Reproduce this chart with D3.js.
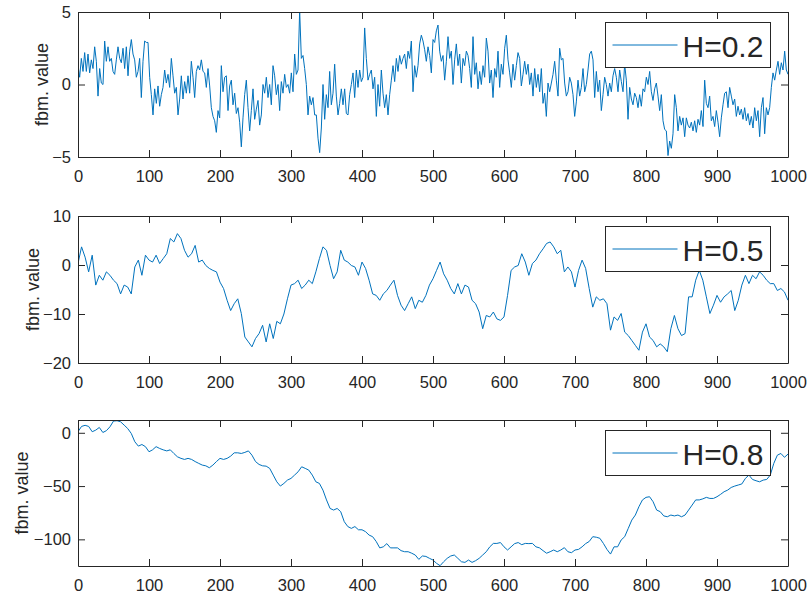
<!DOCTYPE html>
<html>
<head>
<meta charset="utf-8">
<script src="https://cdn.jsdelivr.net/npm/d3@7"></script>
<style>
  body { margin: 0; background: #fff; }
  svg text { font-family: "Liberation Sans", Arial, Helvetica, sans-serif; fill: #262626; }
</style>
</head>
<body>
<svg id="chart" width="811" height="596"></svg>
<script>
// x ticks shared by all three panels
const xTicks = [0, 100, 200, 300, 400, 500, 600, 700, 800, 900, 1000];

// fbm samples, evenly spaced over 0..1000
const h02Values = [
  1.3,0.5,1.8,0.9,2.2,0.9,2.1,0.8,1.7,
  1.1,2.6,1.6,-0.8,1.1,0.1,0,3.0,1.6,
  2.6,1.6,1.8,0.9,0.7,1.7,2.6,1.8,1.5,
  2.5,1.1,2.6,0.6,2.3,3.1,2.1,1.7,0.5,0.9,
  1.8,-0.9,1.6,3.0,2.9,2.9,0.5,-0.7,-2.1,-0.3,
  -1.3,-0.1,-1.5,-0.7,-0.2,1.0,0.1,0.7,-0.2,1.8,
  0.6,-0.6,-0.2,-2.1,-1.0,0.6,-1.0,0.2,-0.6,0.6,
  -0.6,1.6,0.5,-0.9,0.9,1.3,1.0,1.7,0.9,0.8,
  -0.2,1.1,-0.1,-1.6,-2.2,-2.5,-3.3,-1.8,-2.3,1.3,
  -0.5,0.5,0.6,-1.8,-0.1,0.3,-1.4,-0.6,-2.0,-1.6,
  -2.6,-4.3,-2.3,-0.7,0.3,-1.6,-3.2,-1.8,-0.3,-2.4,
  -1.7,-1.1,-2.8,-2.1,0,-0.6,0.5,-0.9,0,-1.4,
  1.3,0.6,-0.7,0,-1.8,0.2,-0.6,0.7,-0.2,0,
  -0.6,0.8,-0.5,2.1,0.7,1.0,5.1,1.8,2.0,1.1,
  0,-2.1,-0.8,-1.4,-0.9,-2.1,
  -2.1,-3.7,-4.7,-3.0,0,-2.4,-0.7,-1.6,0.9,-1.4,
  -0.6,1.4,-0.8,-2.1,-1.3,-0.3,-1.4,-0.3,-2.0,-2.1,
  -0.7,0,0.8,-0.9,1.0,-0.2,1.0,0.2,0.5,
  3.9,1.8,0.3,0.7,1.0,-0.3,0.5,-2.2,0,-1.5,
  1.0,-0.6,-1.6,-0.7,-2.1,-0.7,0.3,1.3,0.2,1.8,
  0.9,2.0,1.4,1.8,2.1,1.1,2.3,1.8,3.0,-0.5,
  1.3,0.5,1.3,2.8,3.4,3.0,2.4,1.6,2.6,2.0,
  0.8,3.1,2.9,3.7,4.1,2.3,1.6,2.0,0.3,1.6,
  3.3,1.8,2.3,0,1.7,2.8,1.3,2.1,0.1,1.8,
  1.3,2.3,2.0,1.1,-0.2,3.3,0.7,1.5,-0.3,0.9,
  0,1.3,0.5,3.2,2.3,0.1,1.0,-0.9,1.1,0.5,
  2.3,-0.2,1.4,0.7,2.5,3.4,1.7,0.8,-0.2,1.4,
  0.3,1.3,2.2,1.8,-0.1,0.7,1.6,0.7,1.4,0,
  0.8,-0.8,1.1,-0.2,0.7,-0.5,1.1,-1.3,-0.6,-2.2,
  0.1,-0.5,0.1,
  0.7,1.6,0.3,-0.8,2.5,1.7,1.8,0.1,-0.8,-0.5,
  0.5,0.1,-0.7,-2.2,-1.2,0.3,-0.8,-0.2,1.1,-0.5,
  0,1.0,2.1,2.3,1.7,-0.9,0.9,-0.5,0.3,-1.8,
  -0.7,0.5,0,-0.8,0.1,-0.5,0.6,1.1,0.5,-0.5,
  1.0,0.2,-0.5,1.4,0.3,-2.4,-0.2,-1.0,-1.4,-0.6,
  -0.9,-1.6,-0.7,-1.5,-0.3,-0.5,0.5,0,0.9,-0.5,
  -1.1,-0.3,0.1,-0.8,-1.8,-0.7,-2.5,-3.1,-3.2,-4.9,
  -3.9,-4.4,-3.4,-0.7,-1.6,-3.2,-2.2,-2.8,-2.3,-3.6,
  -2.3,-2.8,-3.0,-2.6,-3.2,-2.5,-3.3,-2.4,-2.8,-1.8,
  -2.9,0.3,-1.3,-1.6,-0.8,-2.5,-2.2,-2.9,-1.8,-2.6,
  -3.6,-2.3,-1.4,-0.6,-0.5,-1.6,-0.2,-0.8,-1.4,-1.0,
  -2.2,-1.5,-2.1,-1.7,-2.4,-1.6,-2.5,-2.0,-2.8,-2.2,
  -3.0,-1.6,-2.5,-1.8,-3.6,-1.6,-0.9,-3.4,-1.6,-2.1,
  -1.6,-0.2,0.8,0.3,1.0,1.6,0.7,1.5,1.0,2.3,
  1.0,0.7
];

const h05Values = [
  0.3,3.7,1.6,-1.4,2.0,-4.1,-2.1,-3.1,-1.4,-2.1,
  -3.1,-3.8,-5.9,-4.1,-4.5,-5.9,-0.4,1.0,-2.1,2.0,
  1.0,0.6,2.0,0.3,1.3,2.3,5.4,4.7,6.4,5.4,
  3.0,1.6,2.3,4.0,0.6,1.0,-0.1,-0.7,-1.1,-1.4,
  -3.5,-4.8,-7.2,-9.3,-7.9,-6.9,-9.9,-14.7,-15.7,-16.7,
  -15.0,-14.0,-12.3,-15.7,-12.0,-15.0,-11.5,-12.0,-10.0,-6.9,
  -4.1,-3.8,-3.1,-4.8,-4.1,-3.1,-3.8,-1.4,1.3,3.7,
  3.0,-0.1,-2.8,-1.4,3.0,1.0,0.6,-0.1,-0.4,-2.1,
  0.6,-0.7,-3.1,-5.9,-6.2,-7.2,-5.9,-5.2,-4.1,-3.1,
  -6.2,-8.2,-9.3,-7.9,-6.5,-8.9,-7.2,-7.6,-6.2,-4.1,
  -2.8,-1.1,0.6,-1.8,-3.1,-4.8,-5.9,-3.8,-5.9,-4.1,
  -4.5,-7.2,-7.9,-9.6,-13.0,-10.3,-10.6,-9.6,-11.0,-11.3,
  -10.6,-6.2,-1.1,-0.4,-0.1,2.3,0.6,-2.1,0.3,1.0,
  2.3,3.3,4.4,4.7,3.7,2.3,3.0,-1.4,-0.4,-1.4,
  -4.5,-1.1,1.0,-0.7,-4.8,-8.6,-6.5,-7.2,-6.9,-7.9,
  -13.3,-10.6,-11.3,-9.9,-13.7,-14.4,-15.4,-16.4,-17.4,-13.7,
  -12.0,-14.7,-15.4,-16.7,-16.1,-16.7,-17.7,-13.0,-10.3,-13.0,
  -14.4,-14.0,-6.5,-6.5,-3.1,-1.1,-3.1,-6.5,-9.9,-8.2,
  -6.2,-7.6,-6.5,-5.9,-5.2,-9.3,-7.2,-4.1,-2.1,-3.8,
  -2.1,-2.8,-1.4,-2.1,-3.1,-3.8,-3.8,-5.2,-4.8,-5.5,
  -7.2
];

const h08Values = [
  1,6,7,6,1,2.5,5,0.3,2,5.6,
  11,11.3,10.3,7.2,4,-0.6,-8.4,-12.5,-11,-13,
  -17.8,-16,-13,-14.7,-16,-17,-16,-19.4,-22.5,-24,
  -25,-24,-25,-27,-28.7,-30.3,-31,-32.8,-30.3,-27,
  -24,-25,-24,-21.9,-18.8,-18.8,-19.4,-18.4,-17,-21,
  -27,-29.7,-31,-31.3,-33.4,-39.7,-46,-50,-47.5,-44.4,
  -42.8,-39.7,-36.6,-31.9,-33.4,-35,-39.7,-46,-47.5,-53.8,
  -63,-71,-72.5,-71,-74,-83.4,-88,-89.7,-88,-91,
  -91,-92.8,-96,-97.5,-102,-108,-107,-104,-108,-108,
  -108,-110.6,-111.6,-111.6,-113,-114.7,-118.8,-115.6,-116,-117.8,
  -119.4,-122.5,-124.7,-121,-117.8,-115.6,-114.7,-117.8,-121,-121.6,
  -119.4,-121.6,-120,-117.8,-114.7,-111.6,-107,-103.8,-103.8,-103,
  -107,-110,-107,-104,-103,-105,-103.8,-104,-103.8,-107,
  -108,-110.6,-113,-111.6,-110,-111.6,-110,-107.8,-111.6,-112.5,
  -110,-109.4,-107,-104,-102,-97.5,-98,-99,-103.8,-109.4,
  -113.8,-107,-107,-100.6,-97.5,-89.7,-81.9,-77.2,-69.4,-63,
  -60.6,-60,-64.7,-72.5,-74,-78,-78.8,-77.2,-78,-77.2,
  -78.8,-77.2,-72.5,-67.8,-63,-63,-62,-60.6,-61.6,-61.6,
  -60,-57.8,-55.3,-53.8,-51.3,-50,-49,-48,-42.8,-39.7,
  -43.8,-45,-46,-44.4,-43.8,-39.7,-28.7,-21,-19.4,-23,
  -20
];

const legendLabels = ["H=0.2", "H=0.5", "H=0.8"];
const yTickSets = [[-5, 0, 5], [-20, -10, 0, 10], [-100, -50, 0]];
const yLimits = [[-5, 5], [-20, 10], [-125, 12]];

const svg = d3.select("#chart");
const axisColour = "#262626";
const lineColour = "#0072BD";
const left = 78, right = 788;

const x = d3.scaleLinear().domain([0, 1000]).range([left, right]);

// one subplot: line, boxed axes with inward ticks, legend
function drawPanel(idx, values, top, bottom, labelX) {
    const y = d3.scaleLinear().domain(yLimits[idx]).range([bottom, top]);
    const step = 1000 / (values.length - 1);
    const g = svg.append("g");

    g.append("clipPath").attr("id", "clip" + idx)
        .append("rect")
        .attr("x", left).attr("y", top)
        .attr("width", right - left).attr("height", bottom - top);

    g.append("path")
        .datum(values)
        .attr("clip-path", "url(#clip" + idx + ")")
        .attr("fill", "none")
        .attr("stroke", lineColour)
        .attr("stroke-width", 1)
        .attr("stroke-linejoin", "round")
        .attr("d", d3.line().x((d, i) => x(i * step)).y(d => y(d)));

    const bottomAxis = g.append("g")
        .attr("transform", `translate(0,${bottom})`)
        .call(d3.axisBottom(x).tickValues(xTicks).tickFormat(d3.format("d"))
            .tickSizeInner(-7).tickSizeOuter(0).tickPadding(13));
    const topAxis = g.append("g")
        .attr("transform", `translate(0,${top})`)
        .call(d3.axisTop(x).tickValues(xTicks).tickSizeInner(-7).tickSizeOuter(0).tickFormat(""));
    const leftAxis = g.append("g")
        .attr("transform", `translate(${left},0)`)
        .call(d3.axisLeft(y).tickValues(yTickSets[idx]).tickFormat(d3.format("d"))
            .tickSizeInner(-7).tickSizeOuter(0).tickPadding(7));
    const rightAxis = g.append("g")
        .attr("transform", `translate(${right},0)`)
        .call(d3.axisRight(y).tickValues(yTickSets[idx]).tickSizeInner(-7).tickSizeOuter(0).tickFormat(""));

    [bottomAxis, topAxis, leftAxis, rightAxis].forEach(a => {
        a.selectAll("path, line").attr("stroke", axisColour).attr("stroke-width", 1);
        a.selectAll("text")
            .attr("fill", axisColour)
            .style("font-size", "16.5px")
            .style("font-family", "'Liberation Sans', Arial, sans-serif");
    });

    // y label sits just outside the widest tick label, as MATLAB does
    g.append("text")
        .attr("transform", `translate(${labelX},${(top + bottom) / 2}) rotate(-90)`)
        .attr("text-anchor", "middle")
        .style("font-size", "18px")
        .text("fbm. value");

    // legend box
    const lg = g.append("g").attr("transform", `translate(605.5,${top + 10.5})`);
    lg.append("rect")
        .attr("width", 165).attr("height", 45)
        .attr("fill", "#fff")
        .attr("stroke", axisColour).attr("stroke-width", 1);
    lg.append("line")
        .attr("x1", 7).attr("x2", 72)
        .attr("y1", 22.5).attr("y2", 22.5)
        .attr("stroke", lineColour).attr("stroke-width", 1);
    lg.append("text")
        .attr("x", 77).attr("y", 34)
        .style("font-size", "30px")
        .attr("fill", "#000")
        .text(legendLabels[idx]);
}

drawPanel(0, h02Values, 12, 157, 48);
drawPanel(1, h05Values, 216, 363, 39);
drawPanel(2, h08Values, 420, 566, 28);
</script>
</body>
</html>
